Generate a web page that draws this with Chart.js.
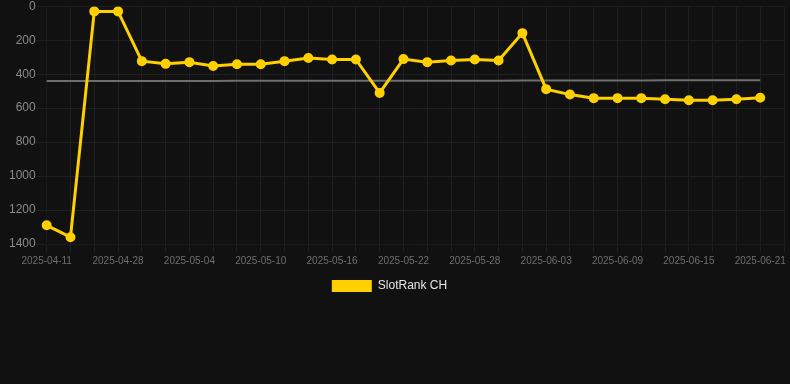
<!DOCTYPE html>
<html>
<head>
<meta charset="utf-8">
<script src="https://cdn.jsdelivr.net/npm/chart.js@4"></script>
<style>
    html, body { margin: 0; padding: 0; background: #111111; }
    #wrap { width: 790px; height: 302px; }
</style>
</head>
<body>
<div id="wrap"><canvas id="rankChart"></canvas></div>
<script>
// dates on the x axis (last one is an empty slot at the right edge)
const dates = [
    '2025-04-11', '2025-04-13', '2025-04-26', '2025-04-28', '2025-04-30', '2025-05-02',
    '2025-05-04', '2025-05-06', '2025-05-08', '2025-05-10', '2025-05-12', '2025-05-14',
    '2025-05-16', '2025-05-18', '2025-05-20', '2025-05-22', '2025-05-24', '2025-05-26',
    '2025-05-28', '2025-05-30', '2025-06-01', '2025-06-03', '2025-06-05', '2025-06-07',
    '2025-06-09', '2025-06-11', '2025-06-13', '2025-06-15', '2025-06-17', '2025-06-19',
    '2025-06-21', '2025-06-23'
];

const rankCH = [
    1290, 1360, 30, 30, 323, 339, 329, 352, 341, 341, 323, 305,
    313, 313, 510, 311, 329, 319, 313, 319, 158, 488, 520, 541,
    541, 541, 547, 553, 553, 547, 539, null
];

const avgLine = [
    440, 440, 440, 440, 440, 440, 440, 440, 439, 439, 439, 439,
    439, 439, 438, 438, 438, 438, 438, 438, 437, 437, 437, 437,
    437, 437, 436, 436, 436, 436, 436, null
];

const yTicks = [0, 200, 400, 600, 800, 1000, 1200, 1400];

const gold = '#ffd000';

// nudge the legend a little to the left, like the original
const legendShift = {
    id: 'legendShift',
    afterLayout(chart) {
        chart.legend.right -= 30;
    }
};

const ctx = document.getElementById('rankChart').getContext('2d');
new Chart(ctx, {
    type: 'line',
    data: {
        labels: dates,
        datasets: [{
            label: 'SlotRank CH',
            data: rankCH,
            borderColor: gold,
            backgroundColor: gold,
            borderWidth: 3,
            pointRadius: 4,
            pointBorderWidth: 2,
            pointBackgroundColor: gold,
            pointBorderColor: gold,
            tension: 0
        }, {
            label: 'avg',
            data: avgLine,
            borderColor: '#6f6f6f',
            borderWidth: 2,
            pointRadius: 0,
            tension: 0
        }]
    },
    plugins: [legendShift],
    options: {
        responsive: true,
        maintainAspectRatio: false,
        animation: false,
        layout: { padding: { left: 9, right: -10, top: 0 } },
        scales: {
            x: {
                grid: { color: '#1f1f1f' },
                ticks: {
                    color: '#6e6e6e',
                    font: { family: 'Liberation Sans, Arial', size: 10 },
                    autoSkip: false,
                    maxRotation: 0,
                    callback: function(val, i) {
                        return i % 3 === 0 ? dates[i] : '';
                    }
                }
            },
            y: {
                reverse: true,
                min: yTicks[0],
                max: yTicks[yTicks.length - 1],
                grid: { color: '#1f1f1f', tickLength: 11 },
                afterBuildTicks: function(axis) {
                    axis.ticks = yTicks.map(v => ({ value: v }));
                },
                ticks: {
                    color: '#8a8a8a',
                    padding: 0,
                    font: { family: 'Liberation Sans, Arial', size: 12, lineHeight: 1.05 },
                    callback: v => String(v)
                }
            }
        },
        plugins: {
            legend: {
                position: 'bottom',
                labels: {
                    color: '#e6e6e6',
                    boxWidth: 40,
                    boxHeight: 12,
                    font: { family: 'Liberation Sans, Arial', size: 12 },
                    filter: function(item) {
                        item.lineWidth = 0;
                        return item.text === 'SlotRank CH';
                    }
                }
            },
            tooltip: { enabled: false }
        }
    }
});
</script>
</body>
</html>
